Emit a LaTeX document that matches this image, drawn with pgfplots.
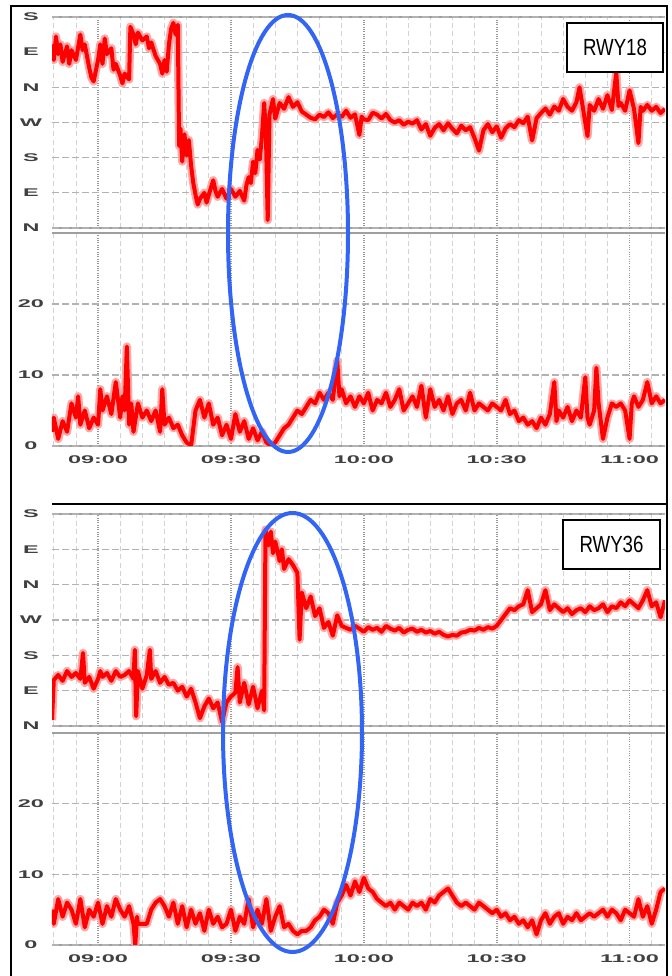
\documentclass[border=0pt]{standalone}
\usepackage{fontspec}
\setmainfont{Liberation Sans}
\usepackage{graphicx}
\usepackage{pgfplots}
\usepackage{pgfplotstable}
\pgfplotsset{compat=1.18}

\newcommand\sx[1]{\scalebox{2.1}[1]{#1}}
\definecolor{ring}{RGB}{50,100,245}

% wind direction, RWY18 (0=N, 90=E, ... wrapped up to 540)
\pgfplotstableread{
t v
-10.4 470
-10 430
-9.5 490
-9 445
-8.5 470
-8 425
-7 465
-6.5 420
-6 455
-5 430
-4 495
-3.5 455
-3 470
-2 410
-1.5 385
-1 375
0 430
0.5 470
1 420
1.5 485
2 445
3 460
3.5 405
4 420
5 390
5.5 370
6 395
7 380
7.3 515
8 495
8.5 470
9 500
10 480
11 490
11.5 460
12 475
13 440
14 420
14.5 395
15 430
15.5 400
16 470
16.5 510
17 525
17.5 495
18 520
18.3 210
18.6 255
19 170
19.5 240
20 185
20.5 225
21 160
21.5 115
22 85
22.5 60
23 75
24 90
24.5 65
25 85
26 122
26.5 95
27 80
28 100
29 75
30 100
31 80
32 95
33 70
33.5 110
34 130
34.5 115
35 170
35.5 140
36 200
36.5 175
37 235
37.5 320
37.9 240
38.3 20
38.7 290
39.5 330
40 280
41 320
42 305
43 335
44 310
45 322
46 298
47 290
48 282
49 278
50 290
51 284
52 296
53 281
54 291
55 284
56 300
57 282
58 291
59 238
59.5 285
60 278
61 276
62 295
63 290
64 280
65 292
66 276
67 270
68 276
69 264
70 272
71 267
72 276
73 252
74 266
75 236
76 256
77 266
78 250
79 268
80 254
81 242
82 262
83 250
84 258
85 230
86 198
87 250
88 266
89 245
90 260
91 231
92 255
93 266
94 258
95 276
96 268
97 285
98 224
99 281
100 294
101 306
102 290
103 311
104 300
105 330
106 310
107 300
108 322
108.7 360
109.5 305
110.5 235
111 315
112 300
113 330
114 305
115 340
116 302
117 398
117.5 312
118 320
119 300
120 352
121 305
122 217
122.5 310
123 300
124 315
125 300
126 310
127 294
128 305
}\dirA

% wind speed, RWY18
\pgfplotstableread{
t v
-10.4 2
-10 4
-9 1
-8 3.5
-7 2
-6 6
-5 4
-4.5 7
-4 3
-3 5
-2 2.5
-1 4
0 3
0.5 8
1 5
2 7
3 4.5
4 9
5 4
5.5 7
6 5
6.5 14
7 3
7.5 6
8 2
9 6
10 4
11 5
12 3.5
13 5
14 2
14.5 8
15 3
16 4
17 2.5
18 3
19 1.5
20 0.5
21 0
22 5
23 6.5
24 4
25 6
26 3
27 4
28 1.5
29 3
30 1
31 4.5
32 2
33 3.5
34 1
35 2.5
36 0.8
37 2
38 0.5
39 0
40 0.5
41 1.5
42 2.5
43 3
44 4
45 5
46 4.5
47 5.5
48 6.5
49 6
50 7.5
51 6.5
52 7.5
53 6.5
54 12
54.5 7
55 8
56 6
57 7
58 5.5
59 7
60 6
61 7.5
62 5
63 6.5
64 6
65 7.5
66 5.5
67 6.5
68 8
69 5
70 6
71 7
72 5.5
73 8.5
74 4
75 8
76 5.5
77 6.5
78 5
79 7
80 4.5
81 6
82 6.5
83 5
84 7.5
85 5
86 6
87 5.5
88 5
89 6
90 5.5
91 5
92 6.5
93 4.5
94 5
95 3.5
96 4
97 3
98 3.5
99 2.5
100 4
101 3
102 4.5
103 9
103.5 3.5
104 5
105 4
106 5.5
107 3.5
108 5
109 4
110 9.7
110.5 4
111 3
112 5
112.5 11
113 6
114 1
115 4
116 6
117 5.5
118 6
119 5
120 1
120.5 6
121 7
122 5.5
123 6.5
124 9
125 6
126 7
127 6
128 6.5
}\spdA

% wind direction, RWY36
\pgfplotstableread{
t v
-10.4 15
-10 117
-9 130
-8 115
-7 140
-6 125
-5 135
-4 120
-3.4 186
-3 110
-2 125
-1 95
0 120
0.5 140
1 125
2 135
3 115
4 140
5 125
6 130
7 140
8 120
8.3 194
8.6 25
9 140
10 95
11 130
11.7 194
12 120
13 140
14 110
15 125
16 105
17 110
18 90
19 100
20 75
21 95
22 60
23 20
24 50
25 70
26 45
27 60
28 10
29 60
30 75
31 85
31.5 150
32 60
33 110
34 55
35 100
36 45
37 90
37.5 40
37.8 500
38.5 460
39 495
39.5 440
40 470
41 420
41.5 450
42 400
43 425
44 410
45 390
45.5 220
46 340
47 300
48 330
49 280
50 300
51 250
52 265
53 230
54 282
55 255
56 250
57 245
58 255
59 248
60 240
61 252
62 245
63 250
64 240
65 255
66 248
67 243
68 250
69 238
70 245
71 248
72 240
73 245
74 238
75 242
76 235
77 240
78 232
79 228
80 232
81 230
82 238
83 240
84 245
85 243
86 250
87 245
88 252
89 248
90 255
91 270
92 285
93 300
94 295
95 305
96 310
97 346
98 290
99 300
100 310
101 346
102 295
103 310
104 300
105 290
106 300
107 285
108 295
109 300
110 290
111 305
112 295
113 300
114 310
115 290
116 305
117 300
118 315
119 305
120 320
121 310
122 300
123 320
124 346
125 305
126 315
127 277
128 320
}\dirB

% wind speed, RWY36
\pgfplotstableread{
t v
-10.4 5
-10 3
-9 6.5
-8 4
-7 6
-6 5
-5 3
-4 6.5
-3 2.5
-2 5
-1 4
0 6
1 3
2 5.5
3 4
4 6.5
5 5
6 4
7 5.5
8 3
8.4 0
8.8 4
9 3
10 3
11 3
12 5
13 6
14 6.5
15 5.5
16 4
17 6
18 3
19 5.5
20 2.5
21 5
22 3
23 4.5
24 2
25 5
26 3
27 4
28 2.5
29 3
30 5
31 2
32 4
33 3
34 6.5
35 2.5
36 5
37 3
38 6.5
39 2
40 4
41 5.5
42 2.5
43 3
44 2
45 1.5
46 2
47 2
48 2.5
49 3.5
50 4
51 5
52 4.5
53 3
54 6
55 7
56 8.5
57 7
58 9
59 7.5
60 9.5
61 8
62 7.5
63 6.5
64 6
65 5.5
66 6
67 5
68 6
69 5.5
70 5
71 6
72 5.5
73 6
74 5
75 6.5
76 6
77 7
78 7.5
79 8
80 7
81 6
82 5.5
83 6
84 5.5
85 5
86 6
87 5.5
88 5
89 4.5
90 5
91 4
92 4.5
93 3.5
94 4
95 3
96 3.5
97 2.5
98 3.5
99 1.5
100 3.5
101 4.5
102 3
103 4
104 4.5
105 3
106 4
107 3.5
108 4.5
109 3.5
110 4
111 4.5
112 4
113 4.5
114 5
115 4
116 5
117 4.5
118 3.5
119 5
120 4.5
121 4
122 6.5
123 4
124 5.5
125 3
126 5
127 7.5
128 8
}\spdB

\pgfplotsset{
  panel/.style={
    scale only axis, width=367.8pt,
    xmin=-10.4, xmax=128,
    separate axis lines,
    x axis line style={gray!75, line width=1.2pt},
    y axis line style={draw=none},
    tick style={draw=none},
    xtick={0,30,60,90,120},
    minor xtick={-10,-5,5,10,15,20,25,35,40,45,50,55,65,70,75,80,85,95,100,105,110,115,125},
    grid=both,
    major grid style={densely dotted, gray!80, line width=1pt},
    minor grid style={gray!35, line width=0.5pt, dash pattern=on 3pt off 2pt},
    ytick=\empty,
    extra y tick style={major grid style={gray!60, line width=0.7pt, dash pattern=on 4pt off 2pt}},
    ticklabel style={font=\fontsize{6.7}{8}\selectfont\bfseries, text=black!75},
    yticklabel style={anchor=center, xshift=-12.6pt},
    xticklabel style={anchor=center, yshift=-8.4pt},
  },
  dir/.style={panel, ymin=0, ymax=540,
    xticklabel style={opacity=0},
    minor ytick={30,60,120,150,210,240,300,330,390,420,480,510},
    extra y ticks={0,90,180,270,360,450,540},
    extra y tick labels={\sx{N},\sx{E},\sx{S},\sx{W},\sx{N},\sx{E},\sx{S}}},
  spd/.style={panel, ymin=0, ymax=30,
    xticklabels={\sx{09:00},\sx{09:30},\sx{10:00},\sx{10:30},\sx{11:00}},
    minor ytick={2,4,6,8,12,14,16,18,22,24,26,28},
    extra y ticks={0,10,20},
    extra y tick labels={\sx{0},\sx{10},\sx{20}}},
  halo/.style={red!35, line width=5pt, line join=round},
  trace/.style={red, line width=2.4pt, line join=round},
}

\begin{document}
\begin{tikzpicture}
\path[use as bounding box] (0,0) rectangle (403.2pt,585.6pt);

% RWY18
\begin{axis}[dir, at={(31.2pt,448.8pt)}, anchor=south west, height=126.6pt]
\addplot[halo] table[x=t,y=v] {\dirA};
\addplot[trace] table[x=t,y=v] {\dirA};
\end{axis}
\begin{axis}[spd, at={(31.2pt,318pt)}, anchor=south west, height=127.8pt]
\addplot[halo] table[x=t,y=v] {\spdA};
\addplot[trace] table[x=t,y=v] {\spdA};
\end{axis}

% RWY36
\begin{axis}[dir, at={(31.2pt,150pt)}, anchor=south west, height=127.2pt]
\addplot[halo] table[x=t,y=v] {\dirB};
\addplot[trace] table[x=t,y=v] {\dirB};
\end{axis}
\begin{axis}[spd, at={(31.2pt,18.6pt)}, anchor=south west, height=127.2pt]
\addplot[halo] table[x=t,y=v] {\spdB};
\addplot[trace] table[x=t,y=v] {\spdB};
\end{axis}

% frame
\draw[black, line width=1.2pt] (6.6pt,-2pt) -- (6.6pt,582pt) -- (400.2pt,582pt) -- (400.2pt,-2pt);
\draw[black, line width=1.2pt] (31.2pt,283.2pt) -- (400.2pt,283.2pt);

% runway labels
\node[draw, line width=1.2pt, fill=white, minimum width=57.6pt, minimum height=29.4pt, inner sep=0pt]
  at (369pt,557.1pt) {\scalebox{0.8}[1]{\fontsize{14}{16}\selectfont RWY18}};
\node[draw, line width=1.2pt, fill=white, minimum width=58.2pt, minimum height=29.4pt, inner sep=0pt]
  at (366.9pt,258.9pt) {\scalebox{0.8}[1]{\fontsize{14}{16}\selectfont RWY36}};

% highlighted periods
\draw[ring, line width=2.4pt] (172.8pt,445.5pt) ellipse [x radius=36pt, y radius=131.1pt];
\draw[ring, line width=2.4pt] (175.5pt,146.1pt) ellipse [x radius=41.7pt, y radius=131.7pt];
\end{tikzpicture}
\end{document}
